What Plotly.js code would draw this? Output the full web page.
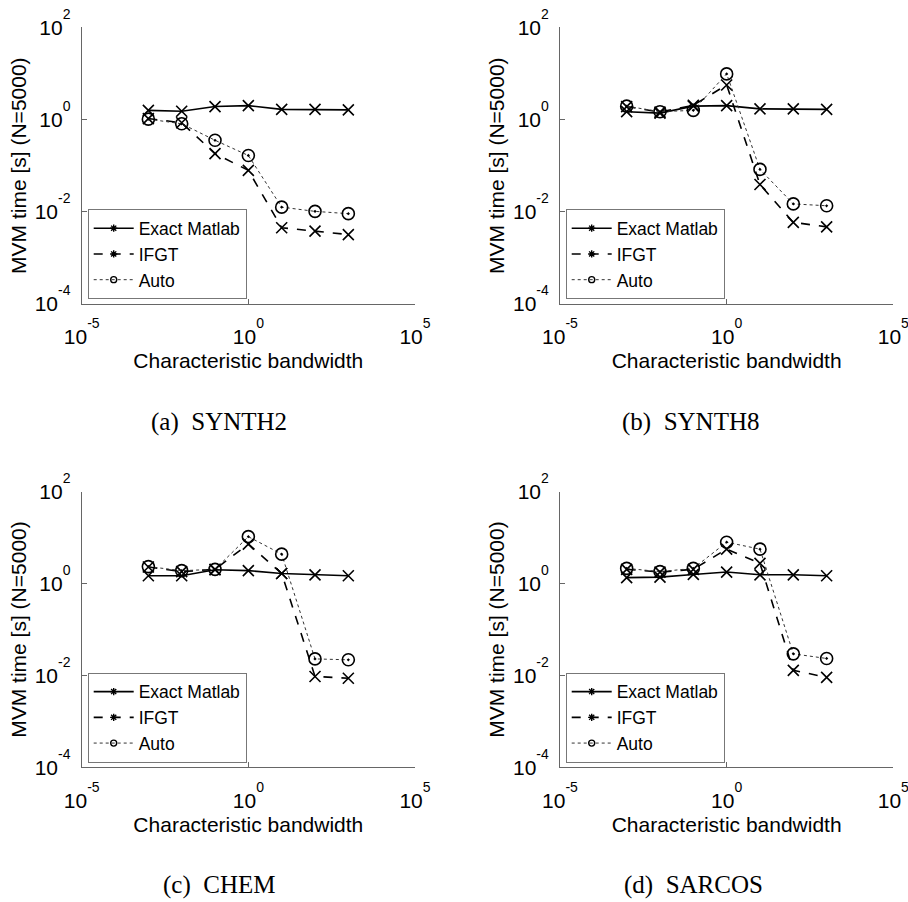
<!DOCTYPE html>
<html>
<head>
<meta charset="utf-8">
<script src="https://cdn.plot.ly/plotly-3.0.1.min.js"></script>
<style>html,body{margin:0;padding:0;background:#fff;}#chart{width:908px;height:902px;}</style>
</head>
<body>
<div id="chart"></div>
<script>
// ---- data ----
const bandwidth = [1e-3, 1e-2, 1e-1, 1, 10, 100, 1000];
const seriesNames = ["Exact Matlab", "IFGT", "Auto"];
const panelCaptions = ["(a)\u00a0\u00a0SYNTH2", "(b)\u00a0\u00a0SYNTH8", "(c)\u00a0\u00a0CHEM", "(d)\u00a0\u00a0SARCOS"];

const synth2Exact = [1.58, 1.51, 1.91, 2.00, 1.66, 1.66, 1.62];
const synth2IFGT  = [1.05, 0.85, 0.182, 0.079, 0.0045, 0.0038, 0.0032];
const synth2Auto  = [1.02, 0.81, 0.355, 0.166, 0.0126, 0.0102, 0.0091];

const synth8Exact = [1.48, 1.38, 1.95, 2.00, 1.70, 1.70, 1.66];
const synth8IFGT  = [1.91, 1.45, 2.04, 5.62, 0.039, 0.0059, 0.0047];
const synth8Auto  = [1.95, 1.48, 1.58, 9.77, 0.083, 0.0148, 0.0135];

const chemExact = [1.48, 1.48, 2.00, 1.91, 1.66, 1.55, 1.48];
const chemIFGT  = [2.29, 1.82, 2.04, 7.24, 1.66, 0.0095, 0.0087];
const chemAuto  = [2.34, 1.91, 2.04, 10.5, 4.37, 0.0229, 0.0219];

const sarcosExact = [1.35, 1.38, 1.58, 1.78, 1.55, 1.55, 1.48];
const sarcosIFGT  = [2.04, 1.78, 2.04, 5.62, 2.75, 0.0129, 0.0091];
const sarcosAuto  = [2.14, 1.82, 2.14, 7.94, 5.62, 0.0295, 0.0234];

const xTickVals = [1e-5, 1, 1e5];
const xTickExp = ["-5", "0", "5"];
const yTickVals = [1e-4, 1e-2, 1, 1e2];
const yTickExp = ["-4", "-2", "0", "2"];

const xTitle = "Characteristic bandwidth";
const yTitle = "MVM time [s] (N=5000)";

// ---- build ----
const W = 908, H = 902;
const expLabel = e => '10<span style="font-size:14px;baseline-shift:16px">' + e + '</span>';
const xTickText = xTickExp.map(expLabel);
const yTickText = yTickExp.map(expLabel);

const panels = [
  {ex: synth2Exact, ifgt: synth2IFGT, auto: synth2Auto},
  {ex: synth8Exact, ifgt: synth8IFGT, auto: synth8Auto},
  {ex: chemExact, ifgt: chemIFGT, auto: chemAuto},
  {ex: sarcosExact, ifgt: sarcosIFGT, auto: sarcosAuto}
];
// pixel boxes [left, right, top, bottom]
const boxes = [
  [81.7, 415, 27.3, 304],
  [560, 893.3, 27.3, 304],
  [81.7, 415, 491.7, 767.3],
  [560, 893.3, 491.7, 767.3]
];
const legendPos = [[87.7, 209.3], [565.7, 209.3], [87.7, 672.7], [565.7, 672.7]];
const captionPos = [[219, 422], [691, 422], [219, 885], [693, 885]];

const styles = [
  {line: {color: "#000", width: 1.6, dash: "solid"}, marker: {symbol: "x-thin", size: 11, color: "#000", line: {color: "#000", width: 1.6}}},
  {line: {color: "#000", width: 1.6, dash: "dash"}, marker: {symbol: "x-thin", size: 11, color: "#000", line: {color: "#000", width: 1.6}}},
  {line: {color: "#333", width: 1, dash: "dot"}, marker: {symbol: "circle-open-dot", size: 12, color: "#000", line: {color: "#000", width: 1.6}}}
];
const legendMarkers = [
  {symbol: "asterisk", size: 6, color: "#000", line: {color: "#000", width: 1.4}},
  {symbol: "asterisk", size: 6, color: "#000", line: {color: "#000", width: 1.4}},
  {symbol: "circle-open", size: 6, color: "#000", line: {color: "#000", width: 1.4}}
];

const traces = [];
const layout = {
  width: W, height: H,
  margin: {l: 0, r: 0, t: 0, b: 0},
  paper_bgcolor: "#fff", plot_bgcolor: "#fff",
  font: {family: "Liberation Sans, Arial, sans-serif", color: "#000", size: 21},
  showlegend: true,
  annotations: []
};

panels.forEach((p, i) => {
  const n = i + 1;
  const xa = n === 1 ? "x" : "x" + n;
  const ya = n === 1 ? "y" : "y" + n;
  const leg = n === 1 ? "legend" : "legend" + n;
  const vals = [p.ex, p.ifgt, p.auto];
  vals.forEach((v, k) => {
    traces.push({
      x: bandwidth, y: v, xaxis: xa, yaxis: ya, type: "scatter", mode: "lines+markers",
      name: seriesNames[k], line: styles[k].line, marker: styles[k].marker,
      showlegend: false, hoverinfo: "skip"
    });
  });
  vals.forEach((v, k) => {
    traces.push({
      x: [null], y: [null], xaxis: xa, yaxis: ya, type: "scatter", mode: "lines+markers",
      name: seriesNames[k], line: styles[k].line, marker: legendMarkers[k],
      showlegend: true, legend: leg
    });
  });
  const b = boxes[i];
  const axCommon = {
    type: "log", showline: true, linecolor: "#666", linewidth: 1,
    ticks: "inside", ticklen: 5, tickcolor: "#666", tickwidth: 1,
    showgrid: false, zeroline: false, mirror: false, ticklabeloverflow: "allow",
    tickfont: {size: 21, color: "#000", family: "Liberation Sans, Arial, sans-serif"}
  };
  layout["xaxis" + (n === 1 ? "" : n)] = Object.assign({}, axCommon, {
    domain: [b[0] / W, b[1] / W], anchor: ya, range: [-5, 5],
    tickvals: xTickVals, ticktext: xTickText, ticklabelstandoff: 14,
    title: {text: xTitle, font: {size: 21, color: "#000"}, standoff: 6}
  });
  layout["yaxis" + (n === 1 ? "" : n)] = Object.assign({}, axCommon, {
    domain: [1 - b[3] / H, 1 - b[2] / H], anchor: xa, range: [-4, 2],
    tickvals: yTickVals, ticktext: yTickText, ticklabelstandoff: 6,
    title: {text: yTitle, font: {size: 21, color: "#000"}, standoff: 2}
  });
  const lp = legendPos[i];
  layout[leg] = {
    x: lp[0] / W, y: 1 - lp[1] / H, xanchor: "left", yanchor: "top",
    xref: "paper", yref: "paper",
    bgcolor: "#fff", bordercolor: "#777", borderwidth: 1,
    font: {size: 17.5, color: "#000", family: "Liberation Sans, Arial, sans-serif"},
    itemwidth: 40, tracegroupgap: 0
  };
  const cp = captionPos[i];
  layout.annotations.push({
    text: panelCaptions[i], xref: "paper", yref: "paper",
    x: cp[0] / W, y: 1 - cp[1] / H, xanchor: "center", yanchor: "middle",
    showarrow: false, font: {family: "Liberation Serif, Times New Roman, serif", size: 25, color: "#000"}
  });
});

Plotly.newPlot("chart", traces, layout, {displayModeBar: false, staticPlot: true});
</script>
</body>
</html>
